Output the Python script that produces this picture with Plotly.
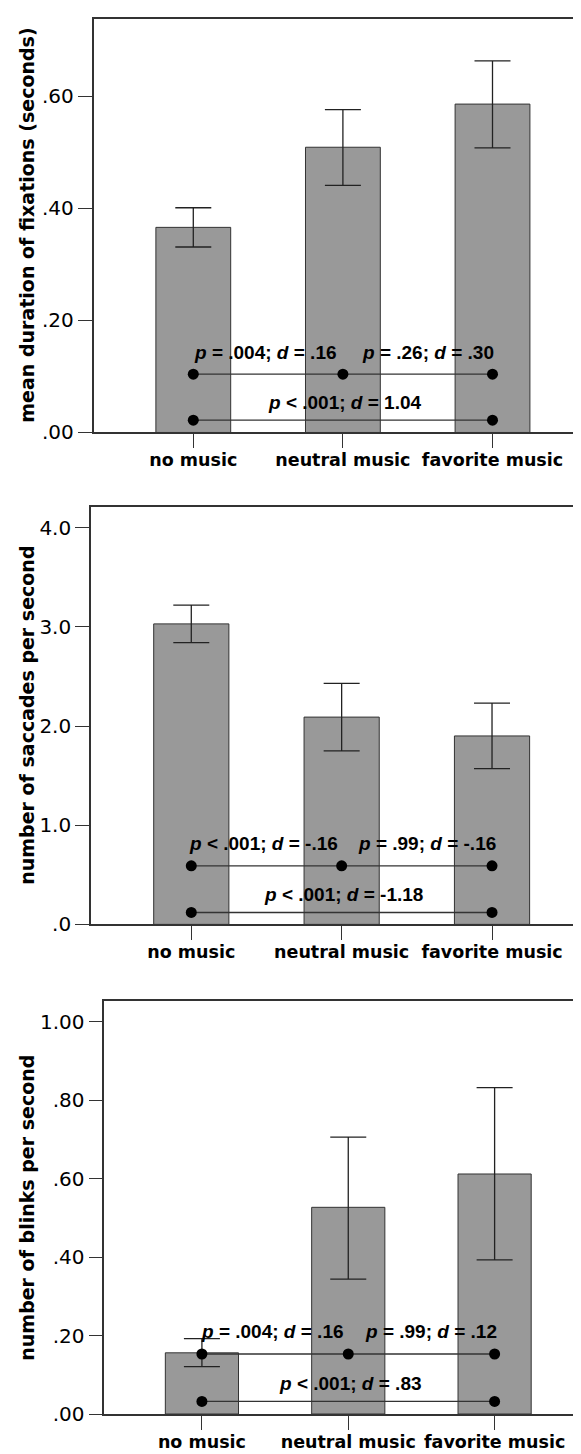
import plotly.graph_objects as go

# ---------------- data ----------------
categories = ["no music", "neutral music", "favorite music"]

fix_mean = [0.366, 0.509, 0.586]
fix_upper = [0.401, 0.576, 0.663]
fix_lower = [0.331, 0.441, 0.508]

sac_mean = [3.03, 2.09, 1.90]
sac_upper = [3.22, 2.43, 2.23]
sac_lower = [2.84, 1.75, 1.57]

blink_mean = [0.156, 0.527, 0.612]
blink_upper = [0.192, 0.706, 0.832]
blink_lower = [0.121, 0.344, 0.393]

# bracket levels (upper pairwise row, lower row) per panel
fix_brackets = [0.104, 0.022]
sac_brackets = [0.59, 0.12]
blink_brackets = [0.153, 0.032]

fix_labels = ["<i>p</i> = .004; <i>d</i> = .16", "<i>p</i> = .26; <i>d</i> = .30",
              "<i>p</i> &lt; .001; <i>d</i> = 1.04"]
sac_labels = ["<i>p</i> &lt; .001; <i>d</i> = -.16", "<i>p</i> = .99; <i>d</i> = -.16",
              "<i>p</i> &lt; .001; <i>d</i> = -1.18"]
blink_labels = ["<i>p</i> = .004; <i>d</i> = .16", "<i>p</i> = .99; <i>d</i> = .12",
                "<i>p</i> &lt; .001; <i>d</i> = .83"]

fix_ticks = [0.0, 0.2, 0.4, 0.6]
fix_ticktext = [".00", ".20", ".40", ".60"]
sac_ticks = [0.0, 1.0, 2.0, 3.0, 4.0]
sac_ticktext = [".0", "1.0", "2.0", "3.0", "4.0"]
blink_ticks = [0.0, 0.2, 0.4, 0.6, 0.8, 1.0]
blink_ticktext = [".00", ".20", ".40", ".60", ".80", "1.00"]

titles = ["mean duration of fixations (seconds)",
          "number of saccades per second",
          "number of blinks per second"]

# ---------------- layout constants ----------------
W, H = 581, 1454
panels = [
    dict(mean=fix_mean, up=fix_upper, lo=fix_lower, br=fix_brackets, lab=fix_labels,
         tv=fix_ticks, tt=fix_ticktext, yr=[0, 0.738], left=85.5, top=11, bottom=428),
    dict(mean=sac_mean, up=sac_upper, lo=sac_lower, br=sac_brackets, lab=sac_labels,
         tv=sac_ticks, tt=sac_ticktext, yr=[0, 4.207], left=83.0, top=503.3, bottom=924),
    dict(mean=blink_mean, up=blink_upper, lo=blink_lower, br=blink_brackets, lab=blink_labels,
         tv=blink_ticks, tt=blink_ticktext, yr=[0, 1.052], left=96.3, top=1001.7, bottom=1417.7),
]

AX_COLOR = "#333333"
TICK_FONT = dict(family="DejaVu Sans", size=20, color="#000000")
CAT_FONT = dict(family="DejaVu Sans", size=17.5, color="#000000", weight="bold")
TITLE_FONT = dict(family="DejaVu Sans", size=19, color="#000000", weight="bold")
LABEL_FONT = dict(family="Liberation Sans, Arial", size=19, color="#000000", weight="bold")

fig = go.Figure()
annotations = []

for i, p in enumerate(panels):
    n = i + 1
    xa = "x" if n == 1 else f"x{n}"
    ya = "y" if n == 1 else f"y{n}"
    err_plus = [u - m for u, m in zip(p["up"], p["mean"])]
    err_minus = [m - l for m, l in zip(p["mean"], p["lo"])]

    fig.add_trace(go.Bar(
        x=categories, y=p["mean"], width=0.5,
        marker=dict(color="#999999", line=dict(color="#333333", width=1)),
        error_y=dict(type="data", symmetric=False, array=err_plus, arrayminus=err_minus,
                     color="#222222", thickness=1.3, width=18),
        xaxis=xa, yaxis=ya, showlegend=False, hoverinfo="skip",
    ))

    up_level, low_level = p["br"]
    # upper row: no music - neutral - favorite
    fig.add_trace(go.Scatter(
        x=categories, y=[up_level] * 3, mode="lines+markers",
        line=dict(color="#333333", width=1.3),
        marker=dict(color="#000000", size=11),
        xaxis=xa, yaxis=ya, showlegend=False, hoverinfo="skip",
    ))
    # lower row: no music - favorite
    fig.add_trace(go.Scatter(
        x=[categories[0], categories[2]], y=[low_level] * 2, mode="lines+markers",
        line=dict(color="#333333", width=1.3),
        marker=dict(color="#000000", size=11),
        xaxis=xa, yaxis=ya, showlegend=False, hoverinfo="skip",
    ))

    # bracket labels
    for x, y, txt, xs, ys in [(0.5, up_level, p["lab"][0], -3, 22),
                              (1.5, up_level, p["lab"][1], 10, 22),
                              (1.0, low_level, p["lab"][2], 2, 18)]:
        annotations.append(dict(x=x, y=y, xref=xa, yref=ya, text=txt, showarrow=False,
                                xanchor="center", yanchor="middle", xshift=xs, yshift=ys,
                                font=LABEL_FONT))

    # y title
    annotations.append(dict(x=19 / W, y=1 - (p["top"] + p["bottom"]) / 2 / H,
                            xref="paper", yref="paper", text=titles[i], textangle=-90,
                            showarrow=False, xanchor="center", yanchor="middle",
                            font=TITLE_FONT))

    xdom = [p["left"] / W, 1.0]
    ydom = [1 - p["bottom"] / H, 1 - p["top"] / H]
    xkey = "xaxis" if n == 1 else f"xaxis{n}"
    ykey = "yaxis" if n == 1 else f"yaxis{n}"
    fig.update_layout(**{
        xkey: dict(domain=xdom, anchor=ya, range=[-0.667, 2.645], type="category",
                   categoryorder="array", categoryarray=categories,
                   showline=True, linecolor=AX_COLOR, linewidth=1.6, mirror=True,
                   ticks="outside", ticklen=14, tickcolor=AX_COLOR, tickwidth=1,
                   ticklabelstandoff=-3,
                   tickfont=CAT_FONT, showgrid=False, zeroline=False, fixedrange=True),
        ykey: dict(domain=ydom, anchor=xa, range=p["yr"], tickvals=p["tv"], ticktext=p["tt"],
                   showline=True, linecolor=AX_COLOR, linewidth=1.6, mirror=False,
                   ticks="outside", ticklen=14, tickcolor=AX_COLOR, tickwidth=1,
                   tickfont=TICK_FONT, showgrid=False, zeroline=False, fixedrange=True),
    })

fig.update_layout(
    width=W, height=H, margin=dict(l=0, r=0, t=0, b=0),
    paper_bgcolor="#ffffff", plot_bgcolor="#ffffff",
    annotations=annotations, bargap=0.5,
)

fig.write_html("out.html")
